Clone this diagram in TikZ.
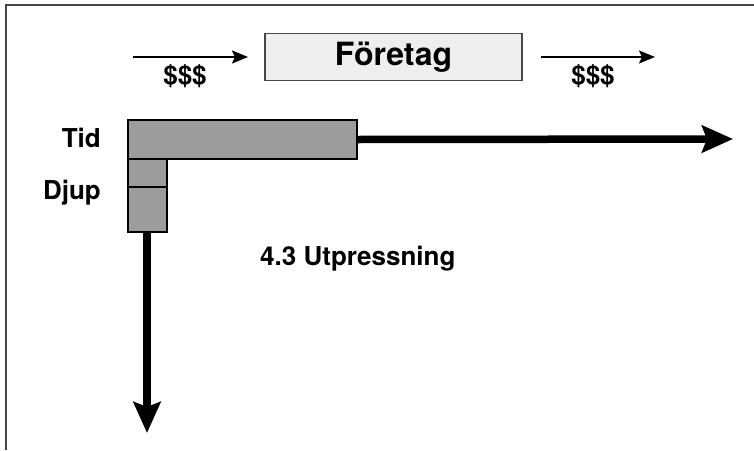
\documentclass[tikz,border=0pt]{standalone}
\usepackage{fontspec}
\setmainfont{TeX Gyre Heros}
\usetikzlibrary{arrows.meta}
\definecolor{framegray}{RGB}{70,70,70}
\definecolor{boxfill}{RGB}{238,238,238}
\definecolor{barfill}{RGB}{156,156,156}
\tikzset{
  lbl/.style={font=\fontsize{26}{30}\selectfont\bfseries, inner sep=0pt},
  titlebox/.style={draw=framegray, line width=1.5pt, fill=boxfill, minimum width=257pt, minimum height=47pt, inner sep=0pt, font=\fontsize{32}{36}\selectfont\bfseries},
  barbox/.style={draw=black, line width=2pt, fill=barfill, inner sep=0pt},
  flow/.style={line width=2pt, -{Stealth[length=16pt, width=13pt, inset=3pt]}},
  axis/.style={line width=7.5pt, -{Stealth[length=31pt, width=27pt, inset=5pt]}}
}
\begin{document}
\begin{tikzpicture}[x=1pt, y=-1pt]
  \useasboundingbox (0,0) rectangle (754,450);
  % open frame
  \draw[framegray, line width=2pt] (6,450) -- (6,5) -- (754,5);

  % company and money flows
  \node[titlebox] (foretag) at (393.5,57) {Företag};
  \coordinate (inA) at (133,57);
  \coordinate (inB) at (248,57);
  \coordinate (outA) at (541,57);
  \coordinate (outB) at (655,57);
  \draw[flow] (inA) -- (inB);
  \draw[flow] (outA) -- (outB);
  \node[lbl] (moneyin) at (185,76) {\$\$\$};
  \node[lbl] (moneyout) at (593,76) {\$\$\$};

  % axes: time and depth
  \node[barbox, minimum width=229pt, minimum height=39pt, anchor=north west] (tid) at (127,119) {};
  \node[barbox, minimum width=39pt, minimum height=28pt, anchor=north west] (djup1) at (127,158) {};
  \node[barbox, minimum width=39pt, minimum height=45pt, anchor=north west] (djup2) at (127,186) {};
  \coordinate (tidend) at (733,139);
  \coordinate (djupend) at (147,433);
  \draw[axis] (tid.east) -- (tidend);
  \draw[axis] (djup2.south -| djupend) -- (djupend);

  \node[lbl, anchor=base east] (tidlbl) at (101,147) {Tid};
  \node[lbl, anchor=base east] (djuplbl) at (101,199) {Djup};
  \node[lbl, anchor=base west] (case) at (260,265) {4.3 Utpressning};
\end{tikzpicture}
\end{document}
